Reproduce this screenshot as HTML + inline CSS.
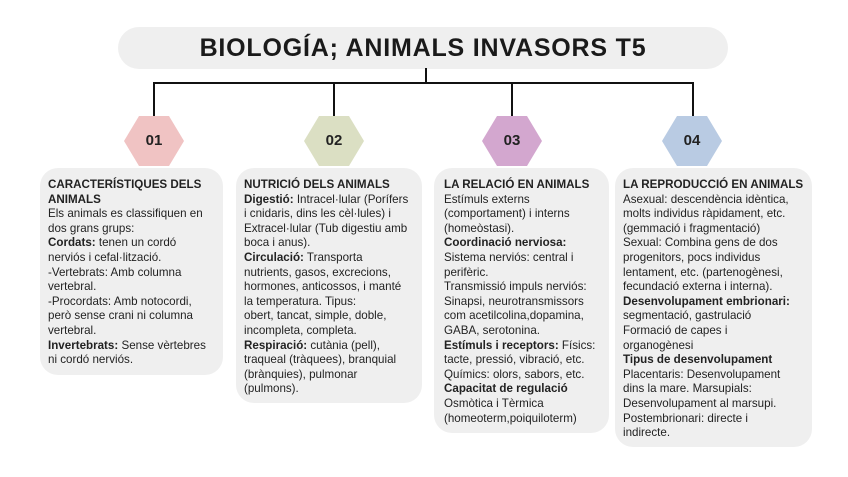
<!DOCTYPE html>
<html><head><meta charset="utf-8"><style>
body{margin:0;width:848px;height:477px;background:#fff;position:relative;font-family:"Liberation Sans",sans-serif;color:#222;overflow:hidden}
.title{position:absolute;left:118px;top:27px;width:610px;height:42px;border-radius:21px;background:#efefef;text-align:center;line-height:42px;font-weight:bold;font-size:25px;letter-spacing:0.8px;color:#1a1a1a}
.ln{position:absolute;background:#111}
.hex{position:absolute;width:60px;height:50px;clip-path:polygon(25% 0,75% 0,100% 50%,75% 100%,25% 100%,0 50%);text-align:center;line-height:50px;font-weight:bold;font-size:15px;color:#222}
.box{position:absolute;background:#efefef;border-radius:18px;font-size:11.6px;line-height:14.6px;padding:10px 0 0 8px;box-sizing:border-box;white-space:nowrap}
b{font-weight:bold}
</style></head><body>
<div class="title">BIOLOGÍA; ANIMALS INVASORS T5</div>
<div class="ln" style="left:425px;top:68px;width:2px;height:15px"></div>
<div class="ln" style="left:154px;top:82px;width:540px;height:2px"></div>
<div class="ln" style="left:153px;top:82px;width:2px;height:36px"></div>
<div class="ln" style="left:333px;top:82px;width:2px;height:36px"></div>
<div class="ln" style="left:511px;top:82px;width:2px;height:36px"></div>
<div class="ln" style="left:692px;top:82px;width:2px;height:36px"></div>
<div class="hex" style="left:124px;top:116px;background:#f0c3c3">01</div>
<div class="hex" style="left:304px;top:116px;background:#dbdfc3">02</div>
<div class="hex" style="left:482px;top:116px;background:#d3a7cf">03</div>
<div class="hex" style="left:662px;top:116px;background:#b9cbe3">04</div>
<div class="box" style="left:40px;top:168px;width:183px;height:207px"><b>CARACTERÍSTIQUES DELS<br>ANIMALS</b><br>Els animals es classifiquen en<br>dos grans grups:<br><b>Cordats:</b> tenen un cordó<br>nerviós i cefal·lització.<br>-Vertebrats: Amb columna<br>vertebral.<br>-Procordats: Amb notocordi,<br>però sense crani ni columna<br>vertebral.<br><b>Invertebrats:</b> Sense vèrtebres<br>ni cordó nerviós.</div>
<div class="box" style="left:236px;top:168px;width:186px;height:235px"><b>NUTRICIÓ DELS ANIMALS</b><br><b>Digestió:</b> Intracel·lular (Porífers<br>i cnidaris, dins les cèl·lules) i<br>Extracel·lular (Tub digestiu amb<br>boca i anus).<br><b>Circulació:</b> Transporta<br>nutrients, gasos, excrecions,<br>hormones, anticossos, i manté<br>la temperatura. Tipus:<br>obert, tancat, simple, doble,<br>incompleta, completa.<br><b>Respiració:</b> cutània (pell),<br>traqueal (tràquees), branquial<br>(brànquies), pulmonar<br>(pulmons).</div>
<div class="box" style="left:434px;top:168px;width:175px;height:265px;padding-left:10px"><b>LA RELACIÓ EN ANIMALS</b><br>Estímuls externs<br>(comportament) i interns<br>(homeòstasi).<br><b>Coordinació nerviosa:</b><br>Sistema nerviós: central i<br>perifèric.<br>Transmissió impuls nerviós:<br>Sinapsi, neurotransmissors<br>com acetilcolina,dopamina,<br>GABA, serotonina.<br><b>Estímuls i receptors:</b> Físics:<br>tacte, pressió, vibració, etc.<br>Químics: olors, sabors, etc.<br><b>Capacitat de regulació</b><br>Osmòtica i Tèrmica<br>(homeoterm,poiquiloterm)</div>
<div class="box" style="left:615px;top:168px;width:197px;height:279px"><b>LA REPRODUCCIÓ EN ANIMALS</b><br>Asexual: descendència idèntica,<br>molts individus ràpidament, etc.<br>(gemmació i fragmentació)<br>Sexual: Combina gens de dos<br>progenitors, pocs individus<br>lentament, etc. (partenogènesi,<br>fecundació externa i interna).<br><b>Desenvolupament embrionari:</b><br>segmentació, gastrulació<br>Formació de capes i<br>organogènesi<br><b>Tipus de desenvolupament</b><br>Placentaris: Desenvolupament<br>dins la mare. Marsupials:<br>Desenvolupament al marsupi.<br>Postembrionari: directe i<br>indirecte.</div>
</body></html>
